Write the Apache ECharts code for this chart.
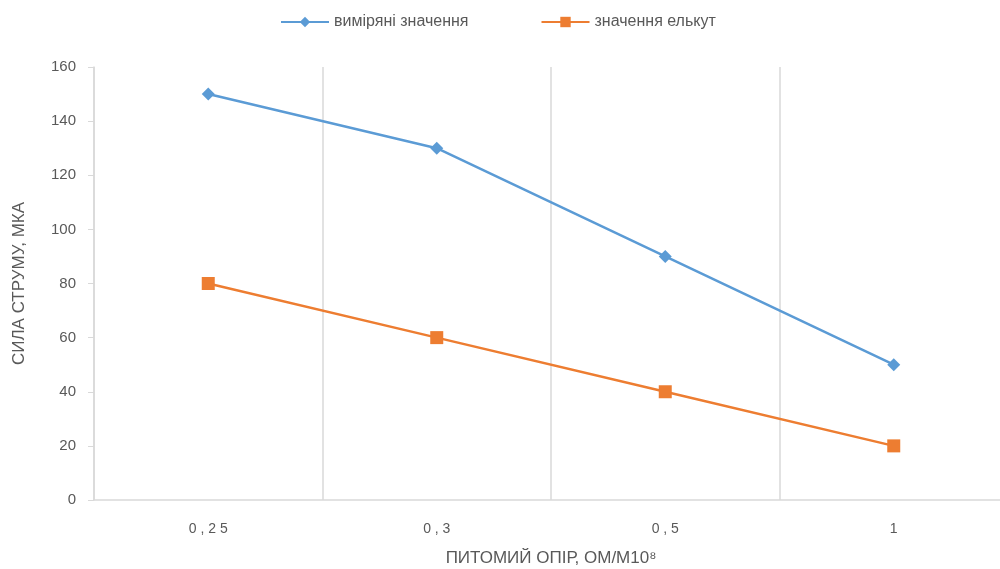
<!DOCTYPE html>
<html><head><meta charset="utf-8">
<script src="https://cdn.jsdelivr.net/npm/echarts@6/dist/echarts.min.js"></script>
<style>html,body{margin:0;padding:0;background:#fff}#c{width:1000px;height:569px}</style>
</head><body><div id="c"></div>
<script>
const categories = ['0 , 2 5', '0 , 3', '0 , 5', '1'];
const measured = [150, 130, 90, 50];
const elkut = [80, 60, 40, 20];
const yTicks = {min: 0, max: 160, interval: 20};
const seriesNames = ['виміряні значення', 'значення елькут'];

const chart = echarts.init(document.getElementById('c'), null, {renderer: 'canvas'});
const font = 'Liberation Sans, Arial, sans-serif';
chart.setOption({
  animation: false,
  backgroundColor: '#fff',
  legend: {
    top: 9, left: 275, itemGap: 72, itemWidth: 48, itemHeight: 13,
    textStyle: {color: '#595959', fontSize: 16, fontFamily: font},
    data: seriesNames
  },
  grid: {left: 94, top: 67, width: 914, height: 433, containLabel: false, outerBoundsMode: 'none'},
  xAxis: {
    type: 'category', data: categories, boundaryGap: true,
    name: 'ПИТОМИЙ ОПІР, ОМ/М10⁸', nameLocation: 'middle', nameGap: 50,
    nameTextStyle: {color: '#595959', fontSize: 17, fontFamily: font},
    axisLine: {show: true, lineStyle: {color: '#d9d9d9', width: 1.5}},
    axisTick: {show: false},
    axisLabel: {color: '#595959', fontSize: 14, fontFamily: font, margin: 22},
    splitLine: {show: true, lineStyle: {color: '#d9d9d9', width: 1.5}}
  },
  yAxis: {
    type: 'value', min: yTicks.min, max: yTicks.max, interval: yTicks.interval,
    name: 'СИЛА СТРУМУ, МКА', nameLocation: 'middle', nameGap: 66, nameRotate: 90,
    nameTextStyle: {color: '#595959', fontSize: 17, fontFamily: font},
    axisLine: {show: true, lineStyle: {color: '#d9d9d9', width: 1.5}},
    axisTick: {show: true, inside: false, length: 6, lineStyle: {color: '#d9d9d9'}},
    axisLabel: {color: '#595959', fontSize: 15, fontFamily: font, margin: 18},
    splitLine: {show: false}
  },
  series: [
    {
      name: seriesNames[0], type: 'line', data: measured,
      symbol: 'diamond', symbolSize: 13,
      lineStyle: {color: '#5B9BD5', width: 2.5},
      itemStyle: {color: '#5B9BD5'}
    },
    {
      name: seriesNames[1], type: 'line', data: elkut,
      symbol: 'rect', symbolSize: 13,
      lineStyle: {color: '#ED7D31', width: 2.5},
      itemStyle: {color: '#ED7D31'}
    }
  ]
});
</script></body></html>
